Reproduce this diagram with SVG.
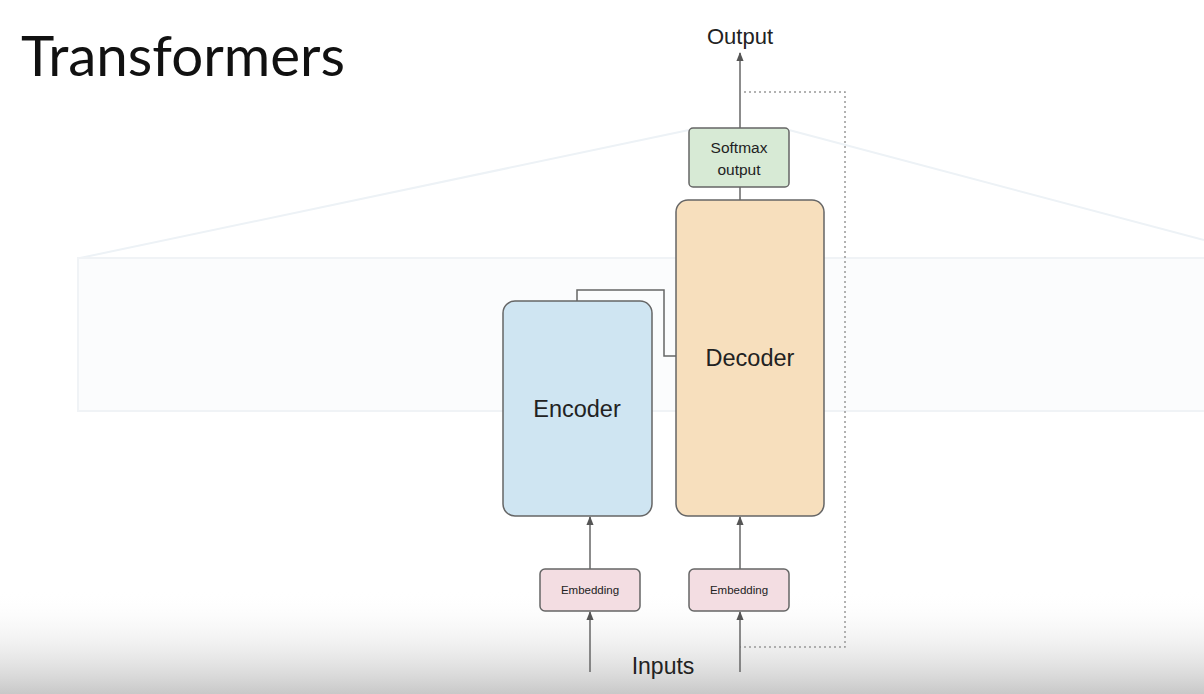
<svg xmlns="http://www.w3.org/2000/svg" width="1204" height="694" viewBox="0 0 1204 694">
  <defs>
    <linearGradient id="shade" x1="0" y1="0" x2="0" y2="1">
      <stop offset="0" stop-color="#ffffff" stop-opacity="0"/>
      <stop offset="1" stop-color="#c8c8c8" stop-opacity="1"/>
    </linearGradient>
    <marker id="arr" viewBox="0 0 10 10" refX="9" refY="5" markerWidth="9" markerHeight="9" markerUnits="userSpaceOnUse" orient="auto">
      <path d="M0,1 L10,5 L0,9 z" fill="#555"/>
    </marker>
  </defs>
  <style>
    .lbl { font-family: "Liberation Sans", Arial, sans-serif; fill: #222; text-anchor: middle; }
    .box { stroke: #666; stroke-width: 1.5; }
    .wire { stroke: #666; stroke-width: 1.5; fill: none; }
    .ghost { stroke: #edf2f6; stroke-width: 2; fill: none; }
  </style>
  <rect width="1204" height="694" fill="#ffffff"/>
  <!-- faint background ghost -->
  <g id="ghost">
    <path class="ghost" d="M80,258 L689,130 M789,130 L1204,240"/>
    <rect x="78" y="258" width="1130" height="153" fill="#fbfcfd" stroke="#f0f3f6" stroke-width="2"/>
  </g>
  <rect x="0" y="590" width="1204" height="104" fill="url(#shade)"/>

  <text x="21" y="76" font-family="Lato, 'Liberation Sans', sans-serif" font-size="56.5" fill="#111">Transformers</text>

  <g id="connectors">
    <line class="wire" x1="740" y1="128" x2="740" y2="53" marker-end="url(#arr)"/>
    <line class="wire" x1="740" y1="187" x2="740" y2="200"/>
    <path d="M744,92 H845 V647 H740" fill="none" stroke="#999" stroke-width="1.5" stroke-dasharray="2,3"/>
    <path class="wire" d="M577,301 V290 H664 V356 H676"/>
    <line class="wire" x1="590" y1="569" x2="590" y2="517" marker-end="url(#arr)"/>
    <line class="wire" x1="740" y1="569" x2="740" y2="517" marker-end="url(#arr)"/>
    <line class="wire" x1="590" y1="672" x2="590" y2="612" marker-end="url(#arr)"/>
    <line class="wire" x1="740" y1="672" x2="740" y2="612" marker-end="url(#arr)"/>
  </g>

  <g id="output">
    <text class="lbl" x="740" y="44" font-size="22">Output</text>
  </g>
  <g id="softmax">
    <rect class="box" x="689" y="128" width="100" height="59" rx="4" fill="#d7ead5"/>
    <text class="lbl" x="739" y="153" font-size="15.5">Softmax</text>
    <text class="lbl" x="739" y="175" font-size="15.5">output</text>
  </g>
  <g id="decoder">
    <rect class="box" x="676" y="200" width="148" height="316" rx="12" fill="#f7dfbd"/>
    <text class="lbl" x="750" y="366" font-size="23.5">Decoder</text>
  </g>
  <g id="encoder">
    <rect class="box" x="503" y="301" width="149" height="215" rx="12" fill="#cfe5f2"/>
    <text class="lbl" x="577" y="417" font-size="23.5">Encoder</text>
  </g>
  <g id="embedding-enc">
    <rect class="box" x="540" y="569" width="100" height="42" rx="5" fill="#f3dde2"/>
    <text class="lbl" x="590" y="594" font-size="11.5">Embedding</text>
  </g>
  <g id="embedding-dec">
    <rect class="box" x="689" y="569" width="100" height="42" rx="5" fill="#f3dde2"/>
    <text class="lbl" x="739" y="594" font-size="11.5">Embedding</text>
  </g>
  <g id="inputs">
    <text class="lbl" x="663" y="674" font-size="23">Inputs</text>
  </g>
</svg>
